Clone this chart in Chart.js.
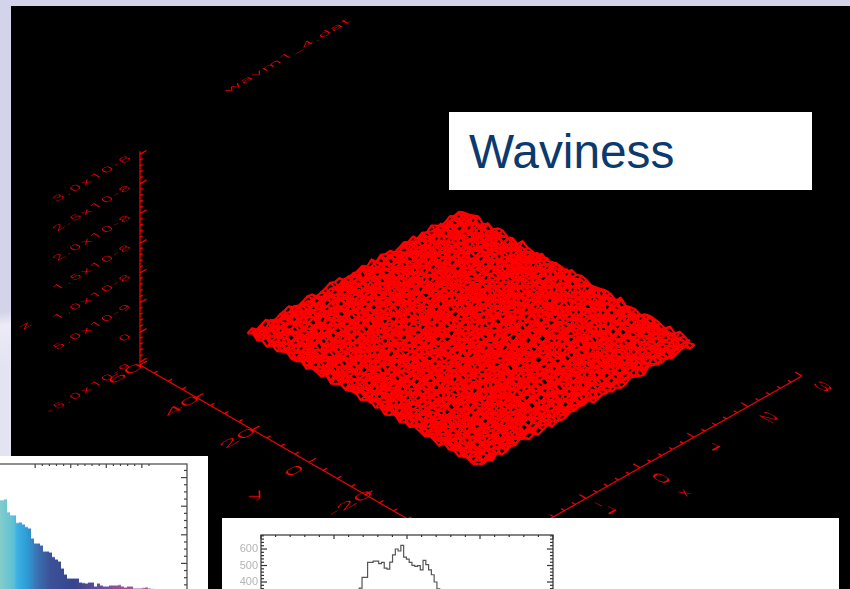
<!DOCTYPE html>
<html lang="en">
<head>
    <meta charset="UTF-8">
    <title>Waviness</title>
    <script src="https://cdn.jsdelivr.net/npm/chart.js"></script>
    <style>
        html, body { margin: 0; padding: 0; }
        body {
            width: 850px; height: 589px; overflow: hidden; position: relative;
            background: linear-gradient(172deg, #d3d3e9 0%, #d3d3e9 44%, #ecebf6 46%, #e3e3f2 52%, #e3e3f2 100%);
        }
        #plotBg { position: absolute; left: 11px; top: 6px; width: 839px; height: 583px; background: #000; }
        #mainChart { position: absolute; left: 0; top: 0; }
        .panel { position: absolute; background: #fff; overflow: hidden; }
        #titlePanel { left: 449px; top: 112px; width: 363px; height: 78px; }
        #titlePanel div {
            position: absolute; left: 20px; top: 12px;
            font: 47.8px "Liberation Sans", sans-serif; color: #0b3a6e;
        }
        #colorPanel { left: 0; top: 456px; width: 208px; height: 133px; }
        #colorChart { position: absolute; left: -10px; top: 6px; }
        #stepPanel { left: 222px; top: 518px; width: 617px; height: 71px; }
        #stepChart { position: absolute; left: 1px; top: 15px; }
    </style>
</head>
<body>
    <div id="plotBg"></div>
    <canvas id="mainChart" width="850" height="589"></canvas>
    <div class="panel" id="titlePanel"><div>Waviness</div></div>
    <div class="panel" id="colorPanel"><canvas id="colorChart" width="199" height="132"></canvas></div>
    <div class="panel" id="stepPanel"><canvas id="stepChart" width="332" height="117"></canvas></div>

    <script>
        // 3D axes of the surface plot
        const xTicks = [-3, -2, -1, 0, 1, 2, 3];
        const xTickLabels = ['', '', '-1', '0', '1', '2', '3'];
        const yTicks = [60, 40, 20, 0, -20, -40, -60];
        const yTickLabels = ['60', '40', '20', '0', '-20', '', ''];
        const zTicks = [-5e-9, 0, 5e-9, 1e-8, 1.5e-8, 2e-8, 2.5e-8, 3e-8];
        const zTickLabels = ['-5.0x10-9', '0', '5.0x10-9', '1.0x10-8', '1.5x10-8', '2.0x10-8', '2.5x10-8', '3.0x10-8'];
        const plotTitle = 'wavm1_4.dat';

        // surface extent read from the corners of the red diamond
        const surfaceX = [-2, 2];
        const surfaceY = [-41, 41];
        // height of each mesh node, one digit per node.
        // The single nodes cannot be read from the picture, this is a hand typed estimate of the roughness.
        const surfaceHeights = [
            '37158204 69314870 25968130 47291856 03748162 95027461',
            '82403917 15782963 40618275 93120574 68293741 50186392',
            '16975230 84206159 73591482 06837214 59142608 37914025',
            '59340781 26749015 18360947 72584036 91473820 64205718',
            '04826395 71538240 96247103 38159627 40726591 82361940',
            '73169540 90382716 45071892 61930485 27684103 19572836',
            '28507413 63174982 89315640 07462918 53810276 94637021',
            '61943728 05286397 14729058 86351240 79025163 42890517',
            '95072186 48361520 67984213 20917364 16548907 73126458',
            '30481659 79210645 52036798 49173502 84269310 06751982',
            '47815032 16937408 81654729 75208136 30914752 68420395',
            '86290174 53702891 29341065 13860497 67251084 91537240',
            '12638957 84016325 70598142 96473108 25917630 43086719',
            '70954213 37581964 46120873 58039216 81640527 19263804',
            '53081746 92647130 89265401 27184659 03752918 64917352',
            '24769801 15038572 63714980 80526341 96473012 38145690',
            '98312475 60894213 07352618 41697025 72108364 50829167',
            '06457129 78361540 25981743 63240859 14895730 27360941',
            '41826093 52719086 93046215 78153904 60372481 85914023',
            '79530164 23806947 18672530 09418276 35960812 47216395',
            '35192847 96451072 60837124 52769310 48027195 13680754',
            '60248713 08175392 74529608 31846957 92135640 89472031',
            '87613590 47032861 35180947 26095413 70841263 56029718',
            '13907426 89564210 02768351 97412680 54360719 21873465',
            '52746081 31290745 96043182 64758029 18293564 70615938',
            '94081375 62837109 47519620 03286174 86750231 39428506',
            '26315908 70418653 18920374 85063712 41927085 63714092',
            '71469230 15890247 63502891 49371560 07184326 98250143',
            '08527146 93264018 82746053 12690845 75318962 40137685',
            '45893012 67105384 29170436 70825391 36402718 59261807',
            '92760358 24819670 51328097 36914052 60875143 17034296',
            '17304682 50936127 84067215 93128670 29561074 86429350',
            '68051493 78241056 30695728 14750236 83906412 52170689',
            '30927518 46173092 75284601 68031947 17420853 94368021',
            '84162709 01587364 19640283 50792418 66031295 27814503',
            '59473026 92360817 48053176 27168950 34781062 80529134',
            '21830654 67492031 96271305 84015763 50129847 36742910',
            '76095142 38106759 02518964 39472601 88253170 14960385',
            '43618907 15723480 63907142 71580394 26097453 90284167',
            '08251369 84960272 47136820 16923085 74316028 57841936',
            '95730481 20631597 81052473 60847219 39528460 12607354',
            '32486017 79158304 25769018 94201736 05172843 68953021',
            '67102594 43086271 90348561 37625089 81946027 24071598',
            '14879302 58264710 36127905 02584613 67390415 79306842',
            '80315246 06917583 72490136 59136870 24805761 41258609',
            '56924071 31740298 15863027 86410529 93162708 05473186',
            '29041863 85206149 68491350 23075914 40687139 76912350',
            '73508126 49615037 04237586 91368240 18520974 38146702'
        ].map(row => row.replace(/ /g, ''));
        const surfaceStep = 1.1e-10;

        // gradient histogram, bottom left panel. Bar height is counted from the hidden baseline
        const colorBars = [
            92, 92, 92, 92, 93, 80, 77, 77, 69.5, 70, 68, 65.5, 64, 54, 49, 49, 47, 41, 41, 40, 35.5, 33, 31, 24,
            18, 14, 14, 14, 14, 10, 9.5, 9, 10, 10, 6, 9, 7, 6, 6, 7, 7, 7, 7.5, 6, 5, 6, 6, 4, 4, 4, 4.5, 5, 4, 3.5
        ];
        const colorBarStops = [
            [0.000, '#84cdc8'], [0.041, '#82cdca'], [0.113, '#5cc0d8'], [0.128, '#3bb1e4'], [0.180, '#2e9cd6'],
            [0.231, '#3a72b2'], [0.300, '#3c5198'], [0.420, '#37448d'], [0.555, '#6a4c93'], [0.660, '#9e5091'], [0.810, '#d2468f']
        ];

        // step histogram, bottom panel
        const stepCounts = [
            250, 363, 428, 428, 519, 519, 527, 527, 511, 519, 484, 478, 521, 565, 600, 588, 622,
            551, 539, 519, 501, 495, 499, 474, 531, 505, 474, 444, 400, 359, 250
        ];
        const stepStart = 6.54;
        const stepWidth = 0.19;

        // oblique projection of the IDL surface plot, page pixels per data unit
        function project(x, y, z) {
            return {
                x: 140 + (60 - y) * 2.817 + (x + 3) * 54,
                y: 365 + (60 - y) * 1.621 - (x + 3) * 30.58 - (z + 5.5e-9) * 5.94e9
            };
        }

        // mesh lines in both directions, null breaks the line between two runs.
        // The real mesh is finer than the table, so a second set of lines runs half a cell off the first
        const meshRows = [];
        const meshCols = [];
        const rowCount = surfaceHeights.length;
        const colCount = surfaceHeights[0].length;
        function meshNode(r, c, offset) {
            const x = surfaceX[0] + (surfaceX[1] - surfaceX[0]) * (c + offset) / (colCount - 1);
            const y = surfaceY[1] - (surfaceY[1] - surfaceY[0]) * (r + offset) / (rowCount - 1);
            const digit = offset ? surfaceHeights[rowCount - 1 - r][c] : surfaceHeights[r][c];
            return project(x, y, (Number(digit) - 4.5) * surfaceStep);
        }
        [0, 0.5].forEach(offset => {
            const rowEnd = rowCount - (offset ? 1 : 0);
            const colEnd = colCount - (offset ? 1 : 0);
            for (let r = 0; r < rowEnd; r++) {
                for (let c = 0; c < colEnd; c++) meshRows.push(meshNode(r, c, offset));
                meshRows.push({ x: null, y: null });
            }
            for (let c = 0; c < colEnd; c++) {
                for (let r = 0; r < rowEnd; r++) meshCols.push(meshNode(r, c, offset));
                meshCols.push({ x: null, y: null });
            }
        });

        // axis lines and their tick marks
        const axisLines = [];
        function addLine(a, b) {
            axisLines.push(a, b, { x: null, y: null });
        }
        const yMin = yTicks[yTicks.length - 1];
        const zBase = -5.5e-9;
        addLine(project(-3, 60, zBase), project(-3, 60, zTicks[zTicks.length - 1] + 0.05e-8));
        addLine(project(-3, 60, zBase), project(-3, yMin, zBase));
        addLine(project(-3, yMin, zBase), project(3, yMin, zBase));
        // z ticks every 1e-9, major every 5e-9
        for (let i = 0; i <= 35; i++) {
            const z = -5e-9 + i * 1e-9;
            addLine(project(-3, 60, z), project(-3 + (i % 5 === 0 ? 0.12 : 0.05), 60, z));
        }
        // y ticks every 5, major every 20
        for (let y = 60; y >= yMin; y -= 5) {
            addLine(project(-3, y, zBase), project(-3 + (y % 20 === 0 ? 0.13 : 0.07), y, zBase));
        }
        // x ticks every 0.2, major every 1
        for (let i = 0; i <= 30; i++) {
            const x = -3 + i * 0.2;
            addLine(project(x, yMin, zBase), project(x, yMin + (i % 5 === 0 ? 2.4 : 1.2), zBase));
        }

        // text lying in the plane of the 3D box
        function planeText(ctx, text, px, py, baseline, down, size, align, spacing) {
            ctx.save();
            ctx.setTransform(baseline[0], baseline[1], down[0], down[1], px, py);
            ctx.font = '300 ' + size + 'px Roboto, sans-serif';
            ctx.letterSpacing = (spacing || 0) + 'px';
            ctx.fillStyle = '#ff0000';
            ctx.textAlign = align || 'center';
            ctx.textBaseline = 'middle';
            ctx.fillText(text, 0, 0);
            ctx.restore();
        }

        const labelPlugin = {
            id: 'planeLabels',
            afterDatasetsDraw(chart) {
                const ctx = chart.ctx;
                const sx = chart.scales.x;
                const sy = chart.scales.y;
                const up = [1.25, -0.7];
                const flat = [0.42, 0.24];
                zTicks.forEach((z, i) => {
                    const p = project(-3, 60, z);
                    planeText(ctx, zTickLabels[i], sx.getPixelForValue(p.x) - 8, sy.getPixelForValue(p.y) + 2,
                        [1.06, -0.61], [0.55, 0.33], 15, 'right', 2);
                });
                yTicks.forEach((y, i) => {
                    if (!yTickLabels[i]) return;
                    const p = project(-3, y, zBase);
                    planeText(ctx, yTickLabels[i], sx.getPixelForValue(p.x) - 14, sy.getPixelForValue(p.y) + 9, up, flat, 24);
                });
                xTicks.forEach((x, i) => {
                    if (!xTickLabels[i]) return;
                    const p = project(x, yMin, zBase);
                    planeText(ctx, xTickLabels[i], sx.getPixelForValue(p.x) + 20, sy.getPixelForValue(p.y) + 11, [1.25, 0.7], [-0.42, 0.24], 24);
                });
                planeText(ctx, 'x', sx.getPixelForValue(685), sy.getPixelForValue(493), [1.1, 0.62], [-0.42, 0.24], 20);
                planeText(ctx, 'y', sx.getPixelForValue(257), sy.getPixelForValue(495), [1.1, -0.62], [0.42, 0.24], 24);
                planeText(ctx, 'z', sx.getPixelForValue(26), sy.getPixelForValue(326), [1.0, -0.58], [0.42, 0.24], 20);
                planeText(ctx, plotTitle, sx.getPixelForValue(288), sy.getPixelForValue(56), [1.3, -0.76], [0.5, 0.3], 15, 'center', 0.7);
            }
        };

        const main = new Chart(document.getElementById('mainChart').getContext('2d'), {
            type: 'scatter',
            data: {
                datasets: [
                    { data: meshRows, showLine: true, borderColor: '#ff0000', borderWidth: 2.2, pointRadius: 0, spanGaps: false, borderJoinStyle: 'round' },
                    { data: meshCols, showLine: true, borderColor: '#ff0000', borderWidth: 2.2, pointRadius: 0, spanGaps: false, borderJoinStyle: 'round' },
                    { data: axisLines, showLine: true, borderColor: '#f00000', borderWidth: 1.3, pointRadius: 0, spanGaps: false }
                ]
            },
            options: {
                responsive: false,
                animation: false,
                plugins: { legend: { display: false }, tooltip: { enabled: false } },
                scales: {
                    x: { type: 'linear', min: 0, max: 850, display: false },
                    y: { type: 'linear', min: 0, max: 589, reverse: true, display: false }
                }
            },
            plugins: [labelPlugin]
        });

        // box with inward ticks on the given sides
        function boxTicks(chart, sides, boxColor) {
            const ctx = chart.ctx;
            const a = chart.chartArea;
            ctx.save();
            ctx.strokeStyle = boxColor;
            ctx.lineWidth = 1.2;
            ctx.strokeRect(a.left, a.top, a.right - a.left, a.bottom - a.top);
            sides.forEach(side => {
                const scale = chart.scales[side.scale];
                side.values.forEach(v => {
                    const len = side.isMajor(v) ? side.major : side.minor;
                    const p = scale.getPixelForValue(v);
                    ctx.beginPath();
                    if (side.at === 'top') { ctx.moveTo(p, a.top); ctx.lineTo(p, a.top + len); }
                    if (side.at === 'left') { ctx.moveTo(a.left, p); ctx.lineTo(a.left + len, p); }
                    if (side.at === 'right') { ctx.moveTo(a.right, p); ctx.lineTo(a.right - len, p); }
                    ctx.stroke();
                });
            });
            ctx.restore();
        }

        // gradient histogram
        const colorTop = [];
        for (let i = 0; i <= 16; i++) colorTop.push(i);
        const colorRight = [];
        for (let i = 0; i <= 17; i++) colorRight.push(i * 7.15);

        new Chart(document.getElementById('colorChart').getContext('2d'), {
            type: 'bar',
            data: {
                labels: colorBars.map((_, i) => String(i)).concat(Array(65 - colorBars.length).fill('')),
                datasets: [{
                    data: colorBars,
                    backgroundColor(context) {
                        const area = context.chart.chartArea;
                        if (!area) return '#3c5198';
                        const g = context.chart.ctx.createLinearGradient(area.left, 0, area.right, 0);
                        colorBarStops.forEach(s => g.addColorStop(s[0], s[1]));
                        return g;
                    },
                    borderColor: '#c4d4ea',
                    borderWidth: { top: 1, left: 0, right: 0, bottom: 0 },
                    borderSkipped: false,
                    categoryPercentage: 1,
                    barPercentage: 1
                }]
            },
            options: {
                responsive: false,
                animation: false,
                layout: { padding: 2 },
                plugins: { legend: { display: false }, tooltip: { enabled: false } },
                scales: {
                    x: { display: false },
                    xTop: { type: 'linear', axis: 'x', min: -1.5, max: 16.78, display: false },
                    y: { type: 'linear', min: 0, max: 128, display: false }
                }
            },
            plugins: [{
                id: 'colorBox',
                afterDraw(chart) {
                    boxTicks(chart, [
                        { scale: 'xTop', at: 'top', values: colorTop, isMajor: v => v % 5 === 0, major: 4, minor: 2 },
                        { scale: 'y', at: 'right', values: colorRight, isMajor: v => Math.round(v / 7.15) % 4 === 0, major: 6, minor: 3 }
                    ], '#444444');
                }
            }]
        });

        // step histogram
        const stepPoints = stepCounts.map((v, i) => ({ x: stepStart + i * stepWidth, y: v }));
        const stepSide = [];
        for (let v = 0; v <= 680; v += 20) stepSide.push(v);
        const stepTop = [];
        for (let i = 0; i <= 20; i++) stepTop.push(i);

        new Chart(document.getElementById('stepChart').getContext('2d'), {
            type: 'scatter',
            data: {
                datasets: [{
                    data: stepPoints,
                    showLine: true,
                    stepped: true,
                    borderColor: '#555555',
                    borderWidth: 1.2,
                    pointRadius: 0
                }]
            },
            options: {
                responsive: false,
                animation: false,
                layout: { padding: { top: 2, right: 2, bottom: 2, left: 0 } },
                plugins: { legend: { display: false }, tooltip: { enabled: false } },
                scales: {
                    x: { type: 'linear', min: 0, max: 20, display: false },
                    y: {
                        type: 'linear',
                        min: 0,
                        max: 685,
                        afterFit(scale) { scale.width = 38; scale.paddingTop = 0; scale.paddingBottom = 0; },
                        border: { display: false },
                        grid: { display: false, drawTicks: false },
                        ticks: {
                            stepSize: 100,
                            includeBounds: false,
                            padding: 3,
                            color: '#b4b4b4',
                            font: { family: '"Liberation Sans", sans-serif', size: 11 }
                        }
                    }
                }
            },
            plugins: [{
                id: 'stepBox',
                afterDraw(chart) {
                    boxTicks(chart, [
                        { scale: 'x', at: 'top', values: stepTop, isMajor: v => v % 5 === 0, major: 4, minor: 2 },
                        { scale: 'y', at: 'left', values: stepSide, isMajor: v => v % 100 === 0, major: 6, minor: 3 },
                        { scale: 'y', at: 'right', values: stepSide, isMajor: v => v % 100 === 0, major: 6, minor: 3 }
                    ], '#333333');
                }
            }]
        });
    </script>
</body>
</html>
